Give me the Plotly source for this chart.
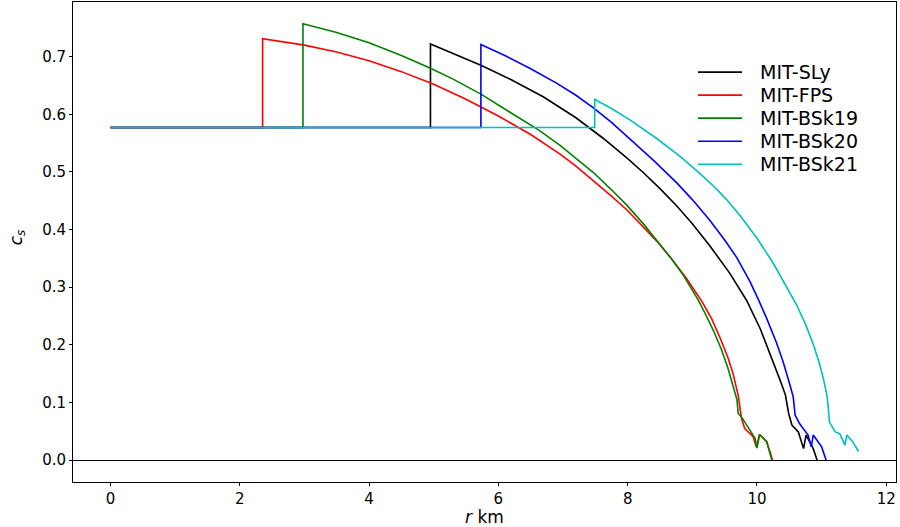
import plotly.graph_objects as go

# Sound speed profiles c_s(r) for hybrid stars: MIT bag-model quark core
# (c_s = 1/sqrt(3)) surrounded by different hadronic EoS envelopes.

r_sly = [0, 4.95, 4.95, 5.3, 5.73, 6.2, 6.7, 7.2, 7.625, 8.0, 8.24, 8.5, 8.76, 9.0,
         9.27, 9.58, 9.84, 10.05, 10.2, 10.36, 10.44, 10.49, 10.54, 10.64, 10.72,
         10.76, 10.87, 10.93]
cs_sly = [0.577, 0.577, 0.722, 0.706, 0.685, 0.660, 0.630, 0.594, 0.558, 0.523, 0.499,
          0.471, 0.441, 0.410, 0.372, 0.324, 0.277, 0.228, 0.186, 0.138, 0.113, 0.081,
          0.061, 0.049, 0.020, 0.0436, 0.020, 0.0]

r_fps = [0, 2.354, 2.354, 3.0, 3.5, 4.0, 4.5, 5.0, 5.5, 6.0, 6.5, 6.955, 7.2, 7.47,
         7.75, 7.99, 8.2, 8.45, 8.66, 8.91, 9.145, 9.3, 9.43, 9.55, 9.63, 9.71, 9.76,
         9.81, 9.94, 9.99, 10.04, 10.15, 10.21, 10.24]
cs_fps = [0.577, 0.577, 0.731, 0.720, 0.708, 0.693, 0.674, 0.652, 0.626, 0.597, 0.565,
          0.531, 0.510, 0.485, 0.458, 0.434, 0.410, 0.380, 0.352, 0.315, 0.276, 0.245,
          0.212, 0.178, 0.150, 0.112, 0.0725, 0.055, 0.0406, 0.023, 0.0446, 0.032,
          0.0116, 0.0]

r_bsk19 = [0, 2.978, 2.978, 3.5, 4.0, 4.5, 4.95, 5.3, 5.73, 6.2, 6.62, 6.955, 7.2,
           7.47, 7.75, 7.99, 8.25, 8.5, 8.7, 8.86, 9.0, 9.09, 9.2, 9.33, 9.45, 9.55,
           9.61, 9.69, 9.71, 9.76, 9.89, 9.97, 10.0, 10.04, 10.15, 10.23]
cs_bsk19 = [0.577, 0.577, 0.757, 0.742, 0.724, 0.702, 0.680, 0.661, 0.635, 0.603,
            0.573, 0.546, 0.524, 0.499, 0.469, 0.442, 0.409, 0.375, 0.346, 0.321,
            0.296, 0.278, 0.254, 0.224, 0.192, 0.160, 0.1365, 0.105, 0.081, 0.075,
            0.052, 0.0377, 0.021, 0.0446, 0.032, 0.0]

r_bsk20 = [0, 5.73, 5.73, 6.1, 6.5, 6.9, 7.2, 7.47, 7.75, 8.01, 8.4, 8.76, 9.0, 9.27,
           9.5, 9.69, 9.89, 10.02, 10.15, 10.3, 10.4, 10.49, 10.56, 10.59, 10.66,
           10.79, 10.84, 10.87, 11.0, 11.07]
cs_bsk20 = [0.577, 0.577, 0.721, 0.702, 0.679, 0.654, 0.633, 0.611, 0.586, 0.560,
            0.520, 0.481, 0.452, 0.416, 0.382, 0.351, 0.310, 0.279, 0.246, 0.204,
            0.172, 0.138, 0.110, 0.078, 0.063, 0.0436, 0.023, 0.0436, 0.023, 0.0]

r_bsk21 = [0, 7.49, 7.49, 7.75, 8.04, 8.45, 8.8, 9.12, 9.35, 9.53, 9.74, 10.0, 10.25,
           10.45, 10.61, 10.75, 10.88, 10.97, 11.03, 11.08, 11.10, 11.12, 11.21, 11.28,
           11.36, 11.39, 11.48, 11.57]
cs_bsk21 = [0.577, 0.577, 0.626, 0.610, 0.590, 0.558, 0.528, 0.497, 0.473, 0.452,
            0.424, 0.385, 0.342, 0.303, 0.270, 0.236, 0.198, 0.166, 0.140, 0.113,
            0.095, 0.066, 0.049, 0.046, 0.026, 0.0436, 0.032, 0.015]

series = [
    ("MIT-SLy", r_sly, cs_sly, "#000000"),
    ("MIT-FPS", r_fps, cs_fps, "#ff0000"),
    ("MIT-BSk19", r_bsk19, cs_bsk19, "#008000"),
    ("MIT-BSk20", r_bsk20, cs_bsk20, "#0000ff"),
    ("MIT-BSk21", r_bsk21, cs_bsk21, "#00bfbf"),
]

x_ticks = [0, 2, 4, 6, 8, 10, 12]
y_ticks = [0.0, 0.1, 0.2, 0.3, 0.4, 0.5, 0.6, 0.7]

font_family = "DejaVu Sans"

fig = go.Figure()
for name, r, cs, color in series:
    fig.add_trace(go.Scatter(x=r, y=cs, mode="lines", name=name, showlegend=False,
                             line=dict(color=color, width=1.6)))

# Legend (upper right, no frame): sample line + label per model
legend_y0 = 0.854     # paper y of the first entry
legend_dy = 0.048     # spacing between entries
shapes = []
annotations = []
for i, (name, _, _, color) in enumerate(series):
    y = legend_y0 - i * legend_dy
    shapes.append(dict(type="line", xref="paper", yref="paper",
                       x0=0.7594, x1=0.8129, y0=y, y1=y,
                       line=dict(color=color, width=1.6)))
    annotations.append(dict(text=name, xref="paper", yref="paper", x=0.8325, y=y,
                            xanchor="left", yanchor="middle", showarrow=False,
                            font=dict(family=font_family, size=19, color="black")))

# y-axis title
annotations.append(dict(text="<i>c<sub>s</sub></i>", xref="paper", yref="paper",
                        x=-0.068, y=0.51, xanchor="center", yanchor="middle",
                        textangle=-90, showarrow=False,
                        font=dict(family=font_family, size=17, color="black")))

axis_common = dict(
    showline=True, mirror=True, linecolor="black", linewidth=1,
    ticks="outside", ticklen=3, tickwidth=1, tickcolor="black",
    showgrid=False, tickfont=dict(family=font_family, size=15, color="black"),
)

fig.update_layout(
    width=900, height=527,
    margin=dict(l=73, r=4, t=2, b=45),
    paper_bgcolor="white", plot_bgcolor="white",
    font=dict(family=font_family, color="black"),
    xaxis=dict(range=[-0.5785, 12.15], tickvals=x_ticks, zeroline=False,
               title=dict(text="<i>r</i> km", standoff=3,
                          font=dict(family=font_family, size=17, color="black")),
               **axis_common),
    yaxis=dict(range=[-0.0379, 0.7948], tickvals=y_ticks, tickformat=".1f",
               zeroline=True, zerolinecolor="black", zerolinewidth=1,
               **axis_common),
    shapes=shapes,
    annotations=annotations,
    showlegend=False,
)

fig.write_html("out.html")
